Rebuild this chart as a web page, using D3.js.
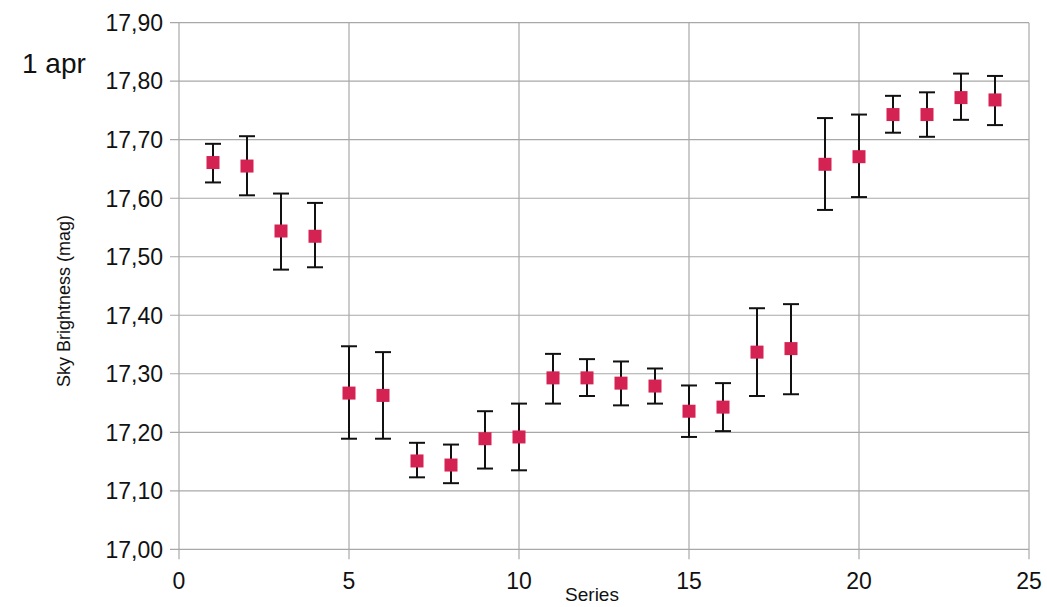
<!DOCTYPE html>
<html><head><meta charset="utf-8">
<script src="https://cdn.jsdelivr.net/npm/d3@7"></script>
<style>body{margin:0;background:#fff}svg{display:block}</style>
</head><body>
<svg id="c" width="1047" height="607"></svg>
<script>
const series = [1,2,3,4,5,6,7,8,9,10,11,12,13,14,15,16,17,18,19,20,21,22,23,24];
const brightness = [17.661,17.655,17.544,17.535,17.267,17.263,17.151,17.144,17.189,17.192,17.293,17.293,17.284,17.279,17.236,17.243,17.337,17.343,17.658,17.671,17.743,17.743,17.772,17.768];
const errHigh = [17.693,17.706,17.608,17.592,17.347,17.337,17.182,17.179,17.236,17.249,17.334,17.325,17.321,17.309,17.280,17.284,17.412,17.419,17.737,17.743,17.775,17.781,17.813,17.809];
const errLow = [17.627,17.605,17.478,17.482,17.189,17.189,17.123,17.113,17.138,17.135,17.249,17.262,17.246,17.249,17.192,17.202,17.262,17.265,17.580,17.602,17.712,17.705,17.734,17.725];
const xTicks = [0,5,10,15,20,25];
const yTicks = [17.0,17.1,17.2,17.3,17.4,17.5,17.6,17.7,17.8,17.9];

const svg = d3.select("#c");
const L=179, R=1029, T=22.7, B=549.3;
const x = d3.scaleLinear().domain([0,25]).range([L,R]);
const y = d3.scaleLinear().domain([17.0,17.9]).range([B,T]);
const font = "Liberation Sans, Arial, sans-serif";
const fmt = v => d3.format(".2f")(v).replace(".", ",");

// horizontal gridlines (extend left as ticks)
svg.append("g").selectAll("line").data(yTicks).join("line")
  .attr("x1", L-9).attr("x2", R).attr("y1", d=>y(d)).attr("y2", d=>y(d))
  .attr("stroke", "#a8a8a8").attr("stroke-width", 1.2);
// vertical gridlines (extend down as ticks)
svg.append("g").selectAll("line").data(xTicks).join("line")
  .attr("x1", d=>x(d)).attr("x2", d=>x(d)).attr("y1", T).attr("y2", B+10)
  .attr("stroke", "#a8a8a8").attr("stroke-width", 1.2);

// y tick labels
svg.append("g").selectAll("text").data(yTicks).join("text")
  .attr("x", L-16).attr("y", d=>y(d)).attr("dy", "0.36em")
  .attr("text-anchor", "end").attr("font-family", font).attr("font-size", 23)
  .attr("fill", "#111").text(fmt);
// x tick labels
svg.append("g").selectAll("text").data(xTicks).join("text")
  .attr("x", d=>x(d)).attr("y", 589)
  .attr("text-anchor", "middle").attr("font-family", font).attr("font-size", 23)
  .attr("fill", "#111").text(d=>d);

// axis titles
svg.append("text").attr("x", 592).attr("y", 601).attr("text-anchor", "middle")
  .attr("font-family", font).attr("font-size", 19).attr("fill", "#111").text("Series");
svg.append("text").attr("transform", "translate(70,301) rotate(-90)").attr("text-anchor", "middle")
  .attr("font-family", font).attr("font-size", 18).attr("fill", "#111").text("Sky Brightness (mag)");
svg.append("text").attr("x", 22).attr("y", 73)
  .attr("font-family", font).attr("font-size", 28).attr("fill", "#111").text("1 apr");

// error bars
const data = series.map((s,i)=>({s, v:brightness[i], hi:errHigh[i], lo:errLow[i]}));
const eb = svg.append("g").attr("stroke", "#111").attr("stroke-width", 2);
eb.selectAll(".v").data(data).join("line")
  .attr("x1", d=>x(d.s)).attr("x2", d=>x(d.s)).attr("y1", d=>y(d.hi)).attr("y2", d=>y(d.lo));
eb.selectAll(".h").data(data).join("line")
  .attr("x1", d=>x(d.s)-8).attr("x2", d=>x(d.s)+8).attr("y1", d=>y(d.hi)).attr("y2", d=>y(d.hi));
eb.selectAll(".l").data(data).join("line")
  .attr("x1", d=>x(d.s)-8).attr("x2", d=>x(d.s)+8).attr("y1", d=>y(d.lo)).attr("y2", d=>y(d.lo));

// markers
svg.append("g").selectAll("rect").data(data).join("rect")
  .attr("x", d=>x(d.s)-6.5).attr("y", d=>y(d.v)-6.5).attr("width", 13).attr("height", 13)
  .attr("fill", "#d42352");
</script>
</body></html>
